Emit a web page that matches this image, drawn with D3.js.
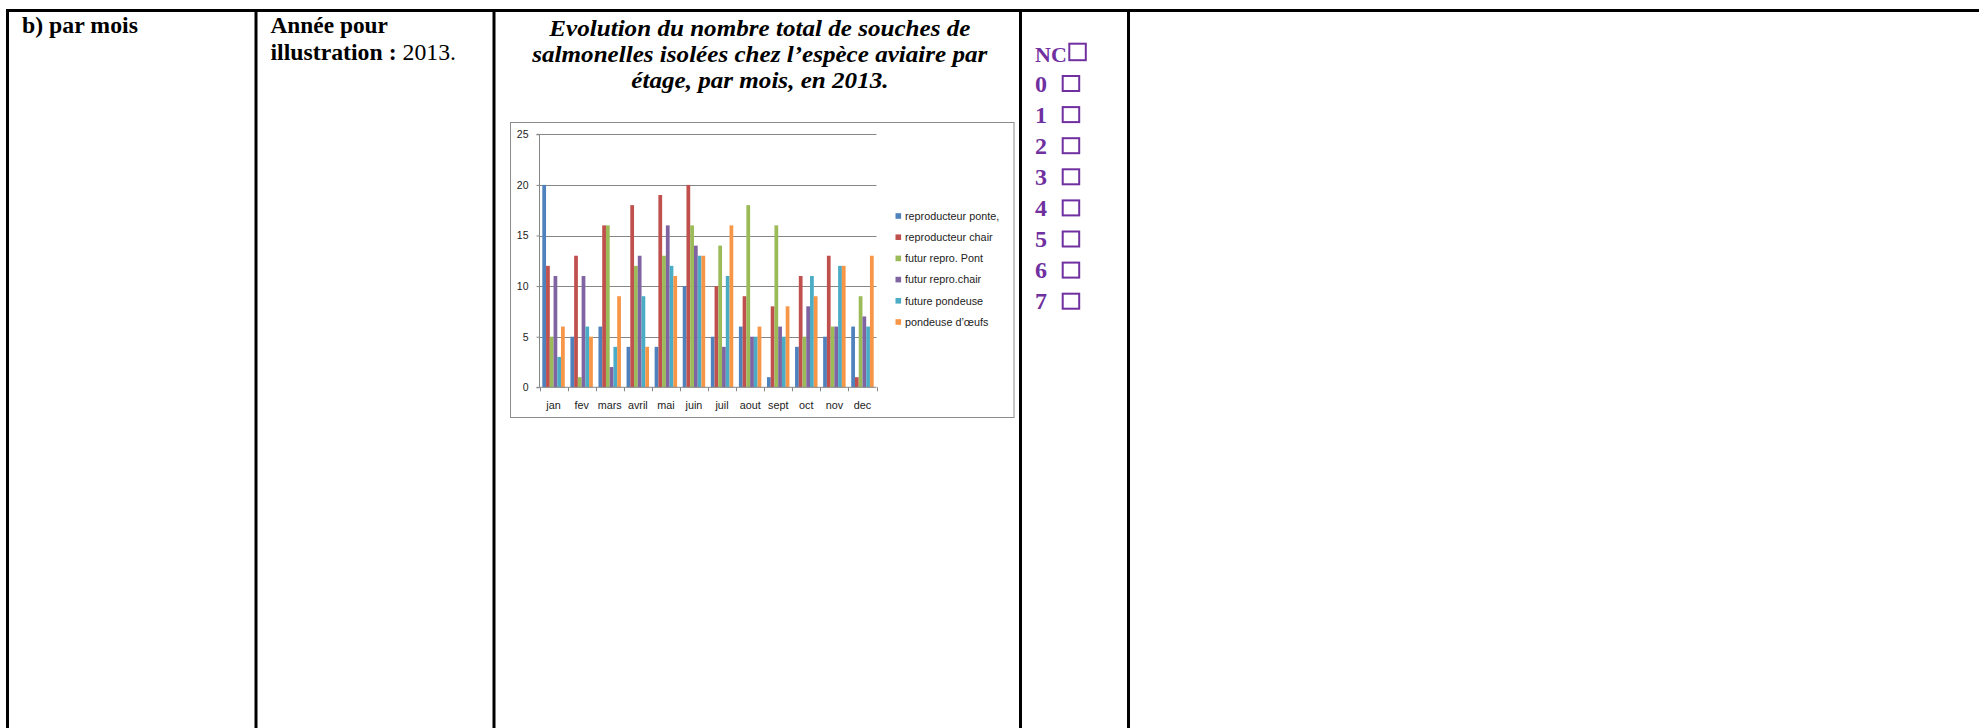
<!DOCTYPE html>
<html>
<head>
<meta charset="utf-8">
<script src="https://cdn.jsdelivr.net/npm/d3@7"></script>
<style>
  html, body { margin: 0; padding: 0; background: #fff; }
  svg { display: block; }
</style>
</head>
<body>
<svg id="page" width="1979" height="728"></svg>
<script>
// ---- data ----
const months = ["jan","fev","mars","avril","mai","juin","juil","aout","sept","oct","nov","dec"];
const seriesNames = ["reproducteur ponte,","reproducteur chair","futur repro. Pont","futur repro.chair","future pondeuse","pondeuse d’œufs"];
const reproducteurPonte = [20,5,6,4,4,10,5,6,1,4,5,6];
const reproducteurChair = [12,13,16,18,19,20,10,9,8,11,13,1];
const futurReproPont    = [5,1,16,12,13,16,14,18,16,5,6,9];
const futurReproChair   = [11,11,2,13,16,14,4,5,6,8,6,7];
const futurePondeuse    = [3,6,4,9,12,13,11,5,5,11,12,6];
const pondeuseOeufs     = [6,5,9,4,11,13,16,6,8,9,12,13];
const yTicks = [0,5,10,15,20,25];
const seriesColors = ["#4F81BD","#C0504D","#9BBB59","#8064A2","#4BACC6","#F79646"];
const scoreLabels = ["NC","0","1","2","3","4","5","6","7"];
const titleLines = ["Evolution du nombre total de souches de",
  "salmonelles isolées chez l’espèce aviaire par",
  "étage, par mois, en 2013."];

const seriesValues = [reproducteurPonte, reproducteurChair, futurReproPont, futurReproChair, futurePondeuse, pondeuseOeufs];

const svg = d3.select("#page");
const serif = "'Liberation Serif','Times New Roman',serif";
const sans = "'Liberation Sans',Arial,sans-serif";

// ---- table frame ----
const g0 = svg.append("g");
g0.append("line").attr("x1", 6).attr("x2", 1979).attr("y1", 10.5).attr("y2", 10.5)
  .attr("stroke", "#000").attr("stroke-width", 3);
[7.5, 256, 494, 1020.5, 1128.5].forEach(x => {
  g0.append("line").attr("x1", x).attr("x2", x).attr("y1", 9).attr("y2", 728)
    .attr("stroke", "#000").attr("stroke-width", 3);
});

// helper: place a text group and stretch it horizontally to a measured width
function placed(x, y) {
  return svg.append("g").attr("transform", `translate(${x},${y})`);
}
function stretch(g, textSel, targetW, anchor) {
  const w = textSel.node().getComputedTextLength();
  const s = targetW / w;
  const [tx, ty] = g.attr("transform").match(/-?[\d.]+/g).map(Number);
  const dx = anchor === "middle" ? -targetW / 2 : 0;
  g.attr("transform", `translate(${tx + dx},${ty}) scale(${s},1)`);
  return s;
}

// ---- cell texts ----
const fs = 23.5;
let g = placed(22, 33.3);
let t = g.append("text").attr("font-family", serif).attr("font-size", fs)
  .attr("font-weight", "bold").text("b) par mois");
stretch(g, t, 116);

g = placed(270.5, 33);
t = g.append("text").attr("font-family", serif).attr("font-size", fs)
  .attr("font-weight", "bold").text("Année pour");
stretch(g, t, 117.5);

g = placed(270.5, 60);
t = g.append("text").attr("font-family", serif).attr("font-size", fs);
t.append("tspan").attr("font-weight", "bold").text("illustration : ");
t.append("tspan").text("2013.");
stretch(g, t, 185.5);

// title
let titleScale = null;
titleLines.forEach((line, i) => {
  const gg = placed(760, 36.3 + i * 25.8);
  const tt = gg.append("text").attr("font-family", serif).attr("font-size", 23)
    .attr("font-weight", "bold").attr("font-style", "italic").text(line);
  const w = tt.node().getComputedTextLength();
  if (titleScale === null) titleScale = 421.4 / w;
  stretch(gg, tt, w * titleScale, "middle");
});

// ---- score boxes ----
const purple = "#7030A0";
const sg = svg.append("g");
scoreLabels.forEach((lab, i) => {
  const base = i === 0 ? 61.5 : 91.6 + (i - 1) * 31.1;
  sg.append("text").attr("x", 1035).attr("y", base).attr("font-family", serif)
    .attr("font-size", i === 0 ? 22 : 24).attr("font-weight", "bold").attr("fill", purple).text(lab);
  if (i === 0) {
    sg.append("rect").attr("x", 1069.3).attr("y", 43.7).attr("width", 16.5).attr("height", 16.5)
      .attr("fill", "none").attr("stroke", purple).attr("stroke-width", 2);
  } else {
    sg.append("rect").attr("x", 1062.7).attr("y", base - 15.6).attr("width", 16.5).attr("height", 15)
      .attr("fill", "none").attr("stroke", purple).attr("stroke-width", 2);
  }
});

// ---- chart ----
svg.append("rect").attr("x", 510.5).attr("y", 122.5).attr("width", 503.5).attr("height", 295)
  .attr("fill", "#fff").attr("stroke", "#8c8c8c").attr("stroke-width", 1);

const x0 = d3.scaleBand().domain(months).range([539.5, 876.5]).paddingInner(0.2).paddingOuter(0.1);
const x1 = d3.scaleBand().domain(d3.range(seriesNames.length)).range([0, x0.bandwidth()]).padding(0);
const y = d3.scaleLinear().domain([0, 25]).range([387.3, 134.3]);

// gridlines
svg.append("g").selectAll("line").data(yTicks.filter(t => t > 0)).join("line")
  .attr("x1", 539.5).attr("x2", 876.5)
  .attr("y1", d => Math.round(y(d)) + 0.5).attr("y2", d => Math.round(y(d)) + 0.5)
  .attr("stroke", "#868686").attr("stroke-width", 1);

// bars
const bars = svg.append("g");
months.forEach((m, mi) => {
  seriesValues.forEach((vals, si) => {
    bars.append("rect")
      .attr("x", x0(m) + x1(si))
      .attr("y", y(vals[mi]))
      .attr("width", x1.bandwidth())
      .attr("height", y(0) - y(vals[mi]))
      .attr("fill", seriesColors[si]);
  });
});

// y axis
const yAxis = d3.axisLeft(y).tickValues(yTicks).tickSize(3).tickPadding(8).tickFormat(d3.format("d"));
const ya = svg.append("g").attr("transform", "translate(539.5,0)").call(yAxis);
ya.select(".domain").attr("stroke", "#868686").attr("d", `M-3,${y(25)}H0V${y(0)}H-3`);
ya.selectAll(".tick line").attr("stroke", "#868686");
ya.selectAll(".tick text").attr("font-family", sans).attr("font-size", 10.5).attr("fill", "#222");

// x axis
const xa = svg.append("g").attr("transform", `translate(0,${y(0)})`)
  .call(d3.axisBottom(x0).tickSize(0).tickPadding(14));
xa.select(".domain").attr("stroke", "#868686").attr("d", "M539.5,0H876.5");
xa.selectAll(".tick text").attr("font-family", sans).attr("font-size", 10.8).attr("fill", "#222");
const bounds = months.map(m => x0(m) - x0.step() * 0.1).concat([876.5]);
xa.append("g").selectAll("line").data(bounds).join("line")
  .attr("x1", d => Math.round(d) + 0.5).attr("x2", d => Math.round(d) + 0.5)
  .attr("y1", 0).attr("y2", 4).attr("stroke", "#868686");

// legend
const lg = svg.append("g");
seriesNames.forEach((name, i) => {
  const cy = 216 + i * 21.2;
  lg.append("rect").attr("x", 895.5).attr("y", cy - 2.8).attr("width", 5.6).attr("height", 5.6)
    .attr("fill", seriesColors[i]);
  lg.append("text").attr("x", 905).attr("y", cy).attr("dy", "0.35em")
    .attr("font-family", sans).attr("font-size", 10.8).attr("fill", "#222").text(name);
});
</script>
</body>
</html>
